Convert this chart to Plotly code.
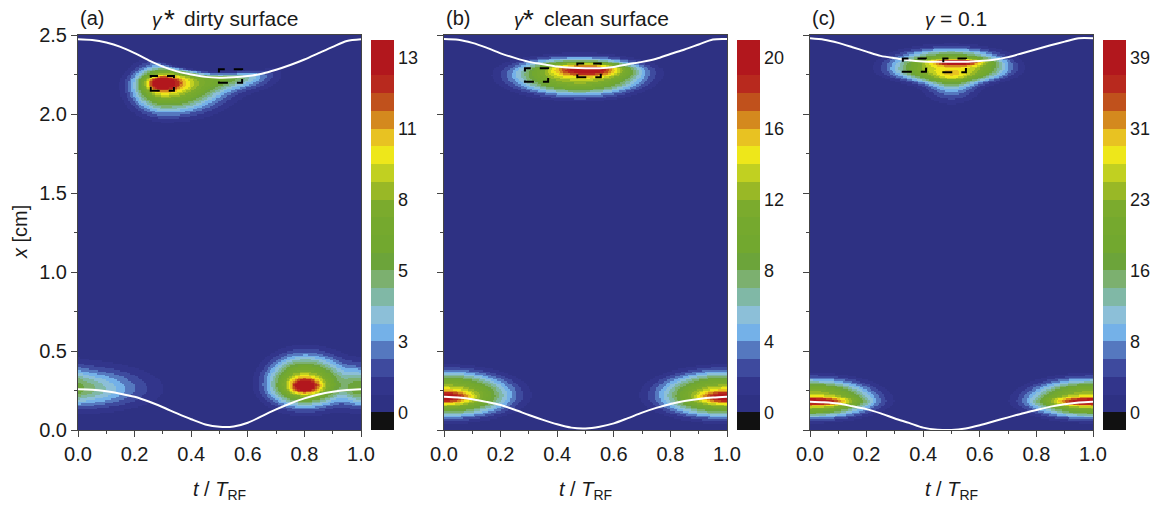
import numpy as np
import plotly.graph_objects as go

# ------------------------------------------------------------------ data
panel_labels = ["(a)", "(b)", "(c)"]
panel_symbol = ["γ", "γ", "γ"]
panel_star = ["*", "*", ""]
panel_rest = ["dirty surface", "clean surface", "= 0.1"]
# left edges (px) of symbol, star and remaining title text
title_pos = [[150, 162, 182], [512, 521, 542], [923, 0, 938]]

# colour-bar labels (every 4th level boundary) and level step of each panel
cbar_text_a = ["0", "3", "5", "8", "11", "13"]
cbar_text_b = ["0", "4", "8", "12", "16", "20"]
cbar_text_c = ["0", "8", "16", "23", "31", "39"]
level_step = [0.67, 1.0, 1.95]

# sheath edges (t / T_RF, x in cm)
sheath_t = [0.0, 0.05, 0.1, 0.15, 0.2, 0.25, 0.3, 0.35, 0.4, 0.45, 0.5,
            0.55, 0.6, 0.65, 0.7, 0.75, 0.8, 0.85, 0.9, 0.95, 1.0]
top_a = [2.473, 2.468, 2.452, 2.425, 2.385, 2.34, 2.30, 2.27, 2.25, 2.235, 2.23,
         2.232, 2.24, 2.255, 2.28, 2.31, 2.345, 2.385, 2.425, 2.462, 2.473]
bot_a = [0.258, 0.255, 0.245, 0.23, 0.21, 0.18, 0.144, 0.105, 0.068, 0.035, 0.02,
         0.022, 0.046, 0.088, 0.13, 0.168, 0.2, 0.225, 0.242, 0.253, 0.258]
top_b = [2.475, 2.47, 2.45, 2.42, 2.384, 2.355, 2.33, 2.315, 2.30, 2.292, 2.289,
         2.29, 2.298, 2.315, 2.33, 2.35, 2.38, 2.408, 2.44, 2.472, 2.475]
bot_b = [0.21, 0.205, 0.195, 0.178, 0.158, 0.128, 0.095, 0.064, 0.036, 0.015, 0.01,
         0.021, 0.042, 0.075, 0.11, 0.14, 0.165, 0.183, 0.196, 0.205, 0.21]
top_c = [2.479, 2.47, 2.45, 2.423, 2.395, 2.368, 2.353, 2.34, 2.333, 2.331, 2.331,
         2.331, 2.336, 2.343, 2.36, 2.385, 2.41, 2.435, 2.458, 2.479, 2.479]
bot_c = [0.179, 0.175, 0.167, 0.15, 0.132, 0.105, 0.073, 0.045, 0.015, 0.002, 0.0,
         0.01, 0.03, 0.055, 0.08, 0.105, 0.127, 0.148, 0.163, 0.174, 0.179]

# density blobs:
# t0, x0, sigma_t(left), sigma_t(right), sigma_x(below), sigma_x(above), peak, exponent
blobs_a = [
    [0.295, 2.200, 0.040, 0.048, 0.040, 0.034, 6.5, 2],
    [0.310, 2.175, 0.085, 0.140, 0.120, 0.100, 8.8, 2.5],
    [0.560, 2.250, 0.070, 0.080, 0.055, 0.050, 4.5, 2],
    [0.450, 2.220, 0.080, 0.100, 0.060, 0.050, 1.5, 2],
    [0.800, 0.280, 0.035, 0.040, 0.035, 0.035, 6.0, 2],
    [0.800, 0.290, 0.095, 0.110, 0.105, 0.130, 9.0, 2.5],
    [0.000, 0.260, 0.040, 0.150, 0.080, 0.090, 5.0, 2],
]
blobs_b = [
    [0.510, 2.285, 0.085, 0.090, 0.030, 0.022, 9.0, 2],
    [0.480, 2.250, 0.180, 0.170, 0.100, 0.080, 13.0, 3],
    [0.000, 0.210, 0.065, 0.065, 0.030, 0.030, 8.0, 2],
    [0.000, 0.220, 0.180, 0.180, 0.105, 0.115, 13.0, 3],
]
blobs_c = [
    [0.520, 2.328, 0.060, 0.070, 0.015, 0.012, 18.0, 2],
    [0.500, 2.290, 0.160, 0.150, 0.070, 0.090, 26.0, 3],
    [0.500, 2.190, 0.060, 0.060, 0.070, 0.060, 10.0, 2],
    [0.000, 0.180, 0.100, 0.100, 0.018, 0.018, 16.0, 2],
    [0.000, 0.190, 0.170, 0.170, 0.085, 0.100, 26.0, 3],
]
edge_softness = [0.010, None, None]   # cut of the density at the upper sheath edge

# dashed boxes: t_start, t_end, x_low, x_high
boxes_a = [[0.257, 0.339, 2.147, 2.241], [0.498, 0.580, 2.198, 2.283]]
boxes_b = [[0.286, 0.368, 2.204, 2.289], [0.471, 0.554, 2.232, 2.320]]
boxes_c = [[0.328, 0.410, 2.268, 2.352], [0.471, 0.551, 2.264, 2.352]]

# discrete colour levels, bottom to top
level_colors = ["#111111", "#2E3183", "#32358B", "#3E4A9E", "#5578BF", "#74B1E8",
                "#8CBFD8", "#80B8A6", "#7CB06F", "#6CA43A", "#72A82F", "#75A92E",
                "#7BAB2D", "#99B826", "#C1D021", "#EEE71A", "#E8C222", "#D4891E",
                "#C0511C", "#B8291E", "#B2171D", "#B2171D"]

# ------------------------------------------------------------------ build
W, H = 1163, 506
plot_left = [78, 444, 810]
plot_w = 283
y_top_px, y_bot_px = 35, 430
cbar_left = [371, 737, 1103]
FONT = "Liberation Sans, Arial, sans-serif"
TXT = "#1a1a1a"

nt, nx = 180, 250
tc = (np.arange(nt) + 0.5) / nt
xc = (np.arange(nx) + 0.5) / nx * 2.5
T, X = np.meshgrid(tc, xc)


def density(blobs, top, soft):
    z = np.zeros_like(T)
    for t0, x0, stl, str_, sxd, sxu, amp, p in blobs:
        for shift in (-1.0, 0.0, 1.0):
            dt = T - (t0 + shift)
            st = np.where(dt < 0, stl, str_)
            sx = np.where(X < x0, sxd, sxu)
            r2 = (dt / st) ** 2 + ((X - x0) / sx) ** 2
            z += amp * np.exp(-0.5 * r2 ** (p / 2.0))
    if soft is not None:
        edge = np.interp(tc, sheath_t, top)[None, :]
        z *= 1.0 / (1.0 + np.exp((X - edge) / soft - 2.0))
    return np.round(z, 2)


def ann(xpx, ypx, text, size=20, xanchor="left", **kw):
    fig.add_annotation(x=xpx / W, y=1 - ypx / H, xref="paper", yref="paper",
                       xanchor=xanchor, yanchor="middle", showarrow=False, text=text,
                       font=dict(family=FONT, size=size, color=TXT), **kw)


n = len(level_colors)
colorscale = []
for i, c in enumerate(level_colors):
    colorscale.append([i / n, c])
    colorscale.append([(i + 1) / n, c])

fig = go.Figure()
panels = [
    (blobs_a, top_a, bot_a, boxes_a, cbar_text_a),
    (blobs_b, top_b, bot_b, boxes_b, cbar_text_b),
    (blobs_c, top_c, bot_c, boxes_c, cbar_text_c),
]
ydom = [1 - y_bot_px / H, 1 - y_top_px / H]

for k, (blobs, top, bot, boxes, ctext) in enumerate(panels):
    s = level_step[k]
    xa = "x" if k == 0 else f"x{k + 1}"
    ya = "y" if k == 0 else f"y{k + 1}"
    z = density(blobs, top, edge_softness[k])
    fig.add_trace(go.Heatmap(
        x=tc, y=xc, z=z, xaxis=xa, yaxis=ya,
        zmin=-s, zmax=(n - 1) * s, colorscale=colorscale, zsmooth=False,
        hoverinfo="skip",
        colorbar=dict(
            x=cbar_left[k] / W, xanchor="left", xpad=0,
            y=1 - 235 / H, yanchor="middle", ypad=0,
            len=390, lenmode="pixels", thickness=23, thicknessmode="pixels",
            outlinewidth=0, ticks="", ticklen=0,
            tickvals=[4 * j * s for j in range(6)], ticktext=ctext,
            tickfont=dict(family=FONT, size=18, color=TXT),
        ),
    ))
    for line in (top, bot):
        fig.add_trace(go.Scatter(
            x=sheath_t, y=line, xaxis=xa, yaxis=ya, mode="lines",
            line=dict(color="white", width=2, shape="spline", smoothing=0.8),
            hoverinfo="skip", showlegend=False))
    for b in boxes:
        fig.add_shape(type="rect", xref=xa, yref=ya, x0=b[0], x1=b[1], y0=b[2], y1=b[3],
                      line=dict(color="black", width=2, dash="dash"))

    dom = [plot_left[k] / W, (plot_left[k] + plot_w) / W]
    axis_common = dict(showline=True, linecolor="#444", linewidth=1, mirror=True,
                       ticks="outside", ticklen=6, tickcolor="#444", showgrid=False,
                       zeroline=False, automargin=False,
                       tickfont=dict(family=FONT, size=20, color=TXT))
    fig.layout[("xaxis" if k == 0 else f"xaxis{k + 1}")] = dict(
        domain=dom, anchor=ya, range=[0, 1], dtick=0.2, tick0=0, tickformat=".1f",
        minor=dict(dtick=0.1, ticklen=3, ticks="outside", tickcolor="#444"),
        **axis_common)
    fig.layout[("yaxis" if k == 0 else f"yaxis{k + 1}")] = dict(
        domain=ydom, anchor=xa, range=[0, 2.5], dtick=0.5, tick0=0, tickformat=".1f",
        showticklabels=(k == 0),
        minor=dict(dtick=0.25, ticklen=3, ticks="outside", tickcolor="#444"),
        **axis_common)

    # x-axis title
    ann(plot_left[k] + plot_w / 2, 490, "<i>t</i> / <i>T</i><sub>RF</sub>", 20, "center")
    # panel titles
    ann(plot_left[k], 18, panel_labels[k], 20)
    sx, stx, rx = title_pos[k]
    ann(sx, 19, "<i>" + panel_symbol[k] + "</i>", 19)
    if panel_star[k]:
        ann(stx, 20, panel_star[k], 28)
    ann(rx, 18, panel_rest[k], 21)

ann(20, 232, "<i>x</i> [cm]", 20, "center", textangle=-90)

fig.update_layout(template="none", width=W, height=H, margin=dict(l=0, r=0, t=0, b=0, pad=0),
                  paper_bgcolor="white", plot_bgcolor="#2E3183", showlegend=False,
                  autosize=False)
fig.write_html("out.html")
